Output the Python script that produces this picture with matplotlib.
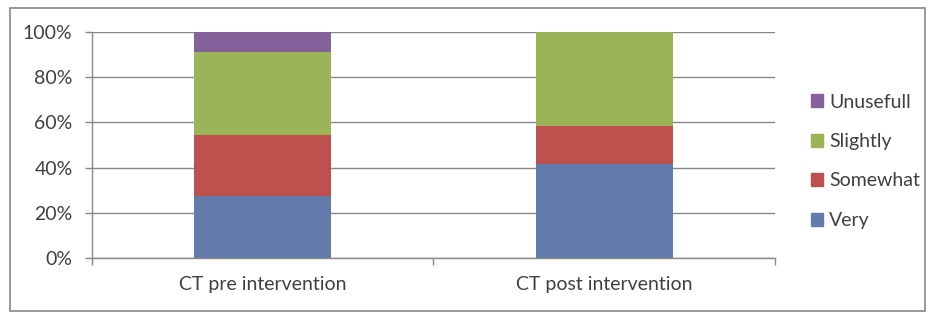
import numpy as np
import matplotlib
matplotlib.use('Agg')
import matplotlib.pyplot as plt
from matplotlib.patches import Patch, Rectangle

categories = ['CT pre intervention', 'CT post intervention']
series = ['Very', 'Somewhat', 'Slightly', 'Unusefull']
very = [27.3, 41.7]
somewhat = [27.3, 16.7]
slightly = [36.4, 41.6]
unusefull = [9.0, 0.0]
colors = ['#617BAB', '#BE514D', '#9BB458', '#84619A']
yticks = [0, 20, 40, 60, 80, 100]

plt.rcParams['font.family'] = ['Lato', 'DejaVu Sans']

fig = plt.figure(figsize=(9.32, 3.12), dpi=100)
ax = fig.add_axes([0.0987, 0.1731, 0.7328, 0.7244])

x = np.arange(len(categories))
bottom = np.zeros(len(categories))
for vals, name, col in zip([very, somewhat, slightly, unusefull], series, colors):
    ax.bar(x, vals, width=0.4, bottom=bottom, color=col, label=name, zorder=3)
    bottom += np.array(vals)

ax.set_xlim(-0.5, 1.5)
ax.set_ylim(0, 100)
ax.set_yticks(yticks)
ax.set_yticklabels(['%d%%' % t for t in yticks])
ax.set_xticks(x)
ax.set_xticklabels(categories)
ax.set_xticks([-0.5, 0.5, 1.5], minor=True)
ax.tick_params(axis='x', which='major', length=0, pad=13, labelsize=14, colors='#404040')
ax.tick_params(axis='x', which='minor', length=5, width=1, color='#888888', direction='out')
ax.tick_params(axis='y', length=5, width=1, color='#888888', pad=9, labelsize=14, labelcolor='#404040')
ax.yaxis.grid(True, color='#888888', linewidth=1, zorder=0)
for s in ['top', 'right']:
    ax.spines[s].set_visible(False)
for s in ['left', 'bottom']:
    ax.spines[s].set_color('#888888')
    ax.spines[s].set_linewidth(1)

handles = [Patch(color=c, label=n) for c, n in zip(colors, series)][::-1]
fig.legend(handles=handles, loc='center left', bbox_to_anchor=(0.851, 0.483),
           frameon=False, fontsize=14, handlelength=0.65, handleheight=0.65,
           handletextpad=0.3, labelspacing=1.15, labelcolor='#404040')

fig.patches.append(Rectangle((0.011, 0.003), 0.982, 0.972, transform=fig.transFigure,
                             fill=False, edgecolor='#888888', linewidth=1.2))

fig.savefig('out.png', dpi=100)
